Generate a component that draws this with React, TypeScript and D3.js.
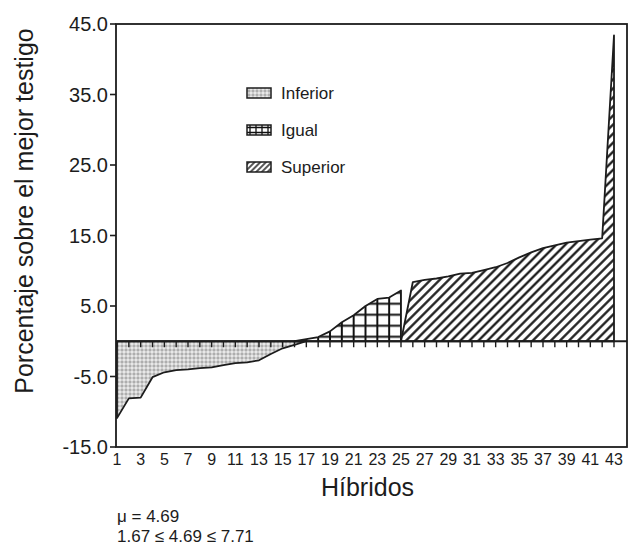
import React from 'react'
import * as d3 from 'd3'

// percentage over the best check, hybrids sorted (1..43)
const inferior = [-10.9, -8.1, -8.0, -5.1, -4.4, -4.1, -4.0, -3.8, -3.7, -3.4, -3.1, -3.0, -2.7, -1.8, -1.0, -0.5]
const igual = [0.3, 0.6, 1.4, 2.7, 3.7, 5.0, 6.0, 6.2, 7.2]
const superior = [8.4, 8.7, 8.9, 9.2, 9.6, 9.7, 10.1, 10.5, 11.1, 11.9, 12.6, 13.2, 13.6, 14.0, 14.2, 14.4, 14.6, 43.4]
const yTicks = [45, 35, 25, 15, 5, -5, -15]
const legendLabels = ['Inferior', 'Igual', 'Superior']
const stats = ['\u03bc = 4.69', '1.67 \u2264 4.69 \u2264 7.71']

const W = 632, H = 547
const left = 116, right = 627, top = 24, bottom = 447
const font = 'Liberation Sans, Arial, sans-serif'
const ink = '#1c1c1c'

type Pt = {h: number, v: number}

export default function App() {
  const values = [...inferior, ...igual, ...superior]
  const all: Pt[] = values.map((v, i) => ({h: i + 1, v}))
  const n = all.length

  const x = d3.scaleLinear().domain([1, n]).range([117, 614])
  const y = d3.scaleLinear().domain([-15, 45]).range([bottom, top])
  const step = x(2) - x(1)

  const area = d3.area<Pt>()
    .x(d => x(d.h))
    .y0(y(0))
    .y1(d => y(d.v))

  const nInf = inferior.length, nIg = igual.length
  const infPts = all.slice(0, nInf + 1).map(d => ({h: d.h, v: Math.min(d.v, 0)}))
  const igPts = all.slice(nInf - 1, nInf + nIg).map(d => ({h: d.h, v: Math.max(d.v, 0)}))
  const supPts = [{h: nInf + nIg, v: 0}, ...all.slice(nInf + nIg)]

  const xLabels = all.filter(d => d.h % 2 === 1).map(d => d.h)
  const fills = ['url(#dots)', 'url(#lgrid)', 'url(#lhatch)']

  return (
    <svg width={W} height={H} style={{position: 'absolute', left: 0, top: 0, background: '#fff'}}>
      <defs>
        <pattern id="dots" width={4} height={4} patternUnits="userSpaceOnUse">
          <rect width={4} height={4} fill="#e8e8e8" />
          <circle cx={2} cy={2} r={1.1} fill="none" stroke="#7c7c7c" strokeWidth={0.7} />
        </pattern>
        <pattern id="grid" width={step} height={11} patternUnits="userSpaceOnUse"
          patternTransform={`translate(${x(1) - step / 2},${y(0) + 1})`}>
          <rect width={step} height={11} fill="#fff" />
          <path d={`M${step / 2},0V11M0,5.5H${step}`} stroke="#111" strokeWidth={2} />
        </pattern>
        <pattern id="hatch" width={6.4} height={6.4} patternUnits="userSpaceOnUse" patternTransform="rotate(45)">
          <rect width={6.4} height={6.4} fill="#fff" />
          <line x1={3.2} y1={0} x2={3.2} y2={6.4} stroke="#111" strokeWidth={2.2} />
        </pattern>
        <pattern id="lgrid" width={6} height={5} patternUnits="userSpaceOnUse">
          <rect width={6} height={5} fill="#fff" />
          <path d="M3,0V5M0,2.5H6" stroke="#111" strokeWidth={1.3} />
        </pattern>
        <pattern id="lhatch" width={4} height={4} patternUnits="userSpaceOnUse" patternTransform="rotate(45)">
          <rect width={4} height={4} fill="#fff" />
          <line x1={2} y1={0} x2={2} y2={4} stroke="#111" strokeWidth={1.4} />
        </pattern>
      </defs>

      {/* areas */}
      <path d={area(infPts) || ''} fill="url(#dots)" stroke={ink} strokeWidth={1.8} strokeLinejoin="round" />
      <path d={area(igPts) || ''} fill="url(#grid)" stroke={ink} strokeWidth={1.8} strokeLinejoin="round" />
      <path d={area(supPts) || ''} fill="url(#hatch)" stroke={ink} strokeWidth={1.8} strokeLinejoin="round" />

      {/* zero line with hybrid ticks */}
      <line x1={left} x2={right} y1={y(0)} y2={y(0)} stroke={ink} strokeWidth={2.2} />
      {all.map(d => (
        <line key={d.h} x1={x(d.h)} x2={x(d.h)} y1={y(0)} y2={y(0) + 6} stroke={ink} strokeWidth={1.4} />
      ))}

      {/* frame */}
      <rect x={left} y={top} width={right - left} height={bottom - top} fill="none" stroke={ink} strokeWidth={1.8} />

      {/* y axis */}
      {yTicks.map(t => (
        <g key={t}>
          <line x1={left - 6} x2={left} y1={y(t)} y2={y(t)} stroke={ink} strokeWidth={1.6} />
          <text x={108} y={y(t)} dy="0.36em" textAnchor="end" fontFamily={font} fontSize={20} fill={ink}>
            {t.toFixed(1)}
          </text>
        </g>
      ))}
      <text transform={`translate(33,211) rotate(-90)`} textAnchor="middle"
        fontFamily={font} fontSize={25} fill={ink}>Porcentaje sobre el mejor testigo</text>

      {/* x axis */}
      {xLabels.map(h => (
        <text key={h} x={x(h)} y={465} textAnchor="middle" fontFamily={font} fontSize={16} fill={ink}>{h}</text>
      ))}
      <text x={(left + right) / 2 - 4} y={496} textAnchor="middle" fontFamily={font} fontSize={25} fill={ink}>Híbridos</text>

      {/* legend */}
      {legendLabels.map((l, i) => (
        <g key={l} transform={`translate(247,${93 + i * 37})`}>
          <rect x={0} y={-5} width={24} height={10} fill={fills[i]} stroke={ink} strokeWidth={1.5} />
          <text x={34} y={0} dy="0.36em" fontFamily={font} fontSize={17} fill={ink}>{l}</text>
        </g>
      ))}

      {/* statistics */}
      {stats.map((s, i) => (
        <text key={s} x={117} y={522 + i * 20} fontFamily={font} fontSize={17} fill={ink}>{s}</text>
      ))}
    </svg>
  )
}
